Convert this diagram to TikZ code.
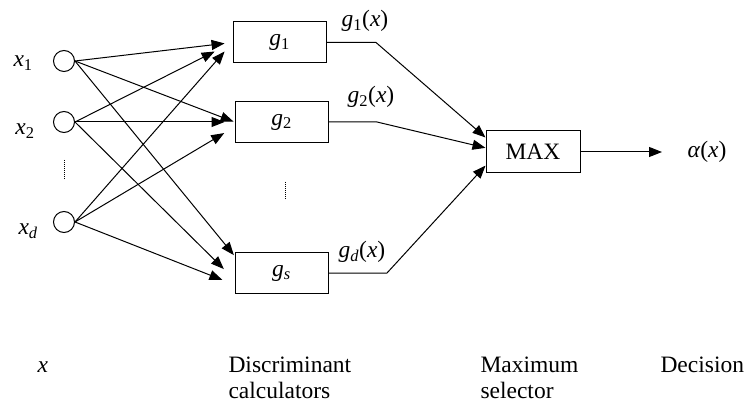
\documentclass[tikz,border=0pt]{standalone}
\usepackage{fontspec}
\setmainfont{Liberation Serif}
\usetikzlibrary{arrows.meta}
\tikzstyle{unit} = [circle, draw, minimum size=21pt, inner sep=0pt]
\tikzstyle{block} = [rectangle, draw, minimum width=93pt, minimum height=41pt, inner sep=0pt]
\tikzstyle{maxblock} = [rectangle, draw, minimum width=94pt, minimum height=42pt, inner sep=0pt]
\tikzstyle{lbl} = [inner sep=0pt]
\tikzstyle{dots} = [-, line width=0.5pt, dash pattern=on 1pt off 1pt]
\newcommand{\vsub}[2]{\textit{#1}\textsubscript{#2}}

\begin{document}
\begin{tikzpicture}[x=1pt,y=-1pt,->,>={Triangle[length=13pt,width=10pt]},
                    line width=1pt,font=\fontsize{23.5}{26}\selectfont]

  \useasboundingbox (0,0) rectangle (746,403);

  % inputs
  \node[unit] (c1) at (64,61)  {};
  \node[unit] (c2) at (64,122) {};
  \node[unit] (cd) at (64,222) {};
  \node[lbl,anchor=base west] (l1) at (13,67)  {\vsub{x}{1}};
  \node[lbl,anchor=base west] (l2) at (15,135) {\vsub{x}{2}};
  \node[lbl,anchor=base west] (ld) at (18,235) {\vsub{x}{\textit{d}}};
  \draw[dots] (64,160) -- (64,180);

  % discriminant blocks
  \node[block] (g1) at (279.5,42.5) {\vsub{g}{1}};
  \node[block] (g2) at (281.5,122)  {\vsub{g}{2}};
  \node[block] (gs) at (281.5,273)  {\vsub{g}{\textit{s}}};
  \draw[dots] (285,182) -- (285,200);

  \node[maxblock] (MAX) at (533,152) {MAX};
  \node[lbl] (alpha) at (707,152) {\textit{α}(\textit{x})};
  \coordinate (dec) at (662,152);

  \path (c1.east) edge[shorten >=8pt]  (g1.west)
        (c1.east) edge[shorten >=1pt]  (g2.west)
        (c1.east) edge[shorten >=1pt]  (gs.160)
        (c2.east) edge[shorten >=20pt] (g1.west)
        (c2.east) edge[shorten >=10pt] (g2.west)
        (c2.east) edge[shorten >=15pt] (gs.188)
        (cd.east) edge[shorten >=12pt] (g1.west)
        (cd.east) edge[shorten >=12pt] (g2.186)
        (cd.east) edge[shorten >=13pt] (gs.194);

  % outputs
  \coordinate (k1) at (376,42.5);
  \coordinate (k2) at (377,122);
  \coordinate (kd) at (387,273);
  \draw (g1.east) -- (k1) -- (MAX.163);
  \draw (g2.east) -- (k2) -- (MAX.175);
  \draw (gs.east) -- (kd) -- (MAX.196);
  \draw (MAX) -- (dec);
  \node[lbl] (o1) at (365,21)  {\vsub{g}{1}(\textit{x})};
  \node[lbl] (o2) at (371,97)  {\vsub{g}{2}(\textit{x})};
  \node[lbl] (od) at (362,252) {\vsub{g}{\textit{d}}(\textit{x})};

  % captions
  \node[lbl,anchor=base west] (tx) at (37,372) {\textit{x}};
  \node[lbl,anchor=base west,align=left] (tdc) at (228,398) {Discriminant\\calculators};
  \node[lbl,anchor=base west,align=left] (tms) at (480,398) {Maximum\\selector};
  \node[lbl,anchor=base west] (tdec) at (660,372) {Decision};
\end{tikzpicture}
\end{document}
